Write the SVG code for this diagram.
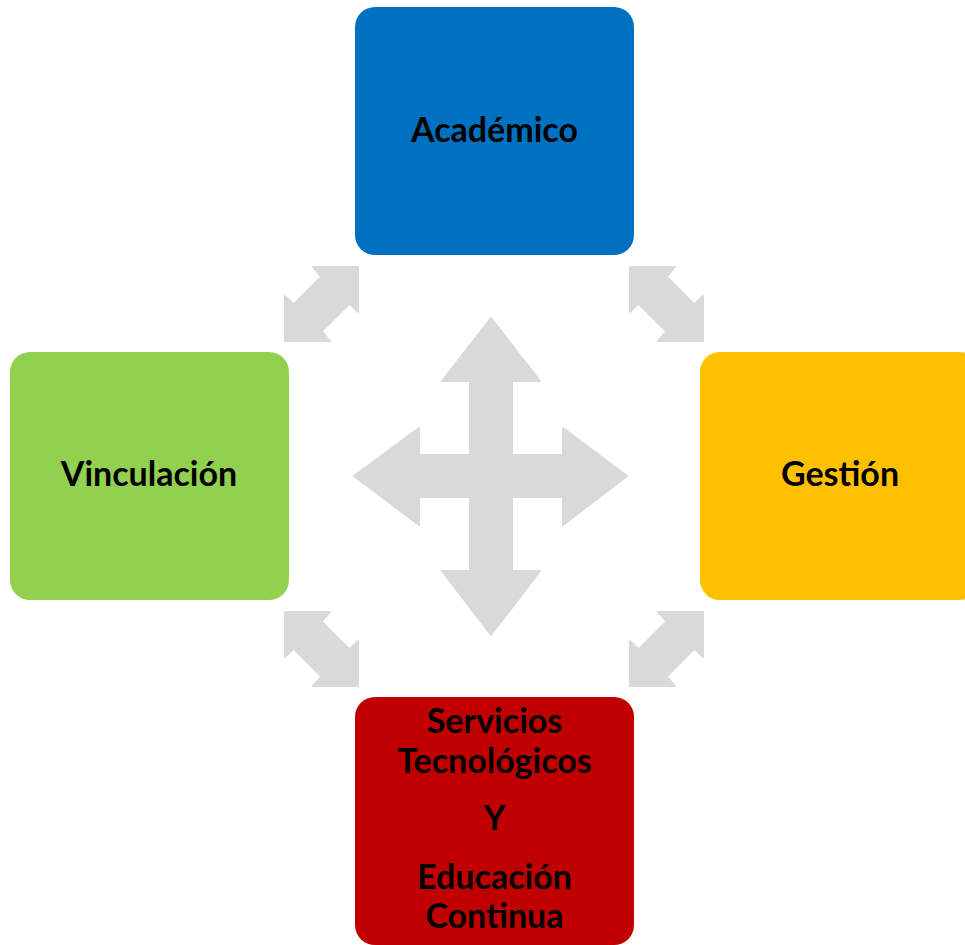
<svg xmlns="http://www.w3.org/2000/svg" width="965" height="945" viewBox="0 0 965 945">
<style>
.box{stroke:none}
.lbl{font-family:Lato,"Liberation Sans",sans-serif;font-weight:bold;font-size:34px;fill:#000;text-anchor:middle}
.arr{fill:#D9D9D9;stroke:#D9D9D9;stroke-width:2;stroke-linejoin:round}
</style>
<rect width="965" height="945" fill="#FFFFFF"/>
<g id="connectors">
<polygon class="arr" points="491,318 540,381 512,381 512,455 563,455 563,428 627,476 563,525 563,497 512,497 512,571 540,571 491,635 442,571 470,571 470,497 419,497 419,525 354,476 419,428 419,455 470,455 470,381 442,381"/>
<polygon class="arr" points="358,267 358,312 349.5,303.5 321.5,331.5 330,341 285,341 285,296 293.5,304.5 321.5,276.5 313,267"/>
<polygon class="arr" points="630,267 630,312 638.5,303.5 666.5,331.5 658,341 703,341 703,296 694.5,304.5 666.5,276.5 675,267"/>
<polygon class="arr" points="358,686 358,641 349.5,649.5 321.5,621.5 330,612 285,612 285,657 293.5,648.5 321.5,676.5 313,686"/>
<polygon class="arr" points="630,686 630,641 638.5,649.5 666.5,621.5 658,612 703,612 703,657 694.5,648.5 666.5,676.5 675,686"/>
</g>
<g id="academico">
<rect class="box" x="355" y="7" width="279" height="248" rx="20" fill="#0070C0"/>
<text class="lbl" x="494.5" y="142">Académico</text>
</g>
<g id="vinculacion">
<rect class="box" x="10" y="352" width="279" height="248" rx="20" fill="#92D050"/>
<text class="lbl" x="149" y="486">Vinculación</text>
</g>
<g id="gestion">
<rect class="box" x="700" y="352" width="280" height="248" rx="20" fill="#FFC000"/>
<text class="lbl" x="840" y="486">Gestión</text>
</g>
<g id="servicios">
<rect class="box" x="355" y="697" width="279" height="248" rx="20" fill="#C00000"/>
<text class="lbl" x="494.5" y="733">Servicios</text>
<text class="lbl" x="494.5" y="773">Tecnológicos</text>
<text class="lbl" x="494.5" y="830">Y</text>
<text class="lbl" x="494.5" y="889">Educación</text>
<text class="lbl" x="494.5" y="928">Continua</text>
</g>
</svg>
